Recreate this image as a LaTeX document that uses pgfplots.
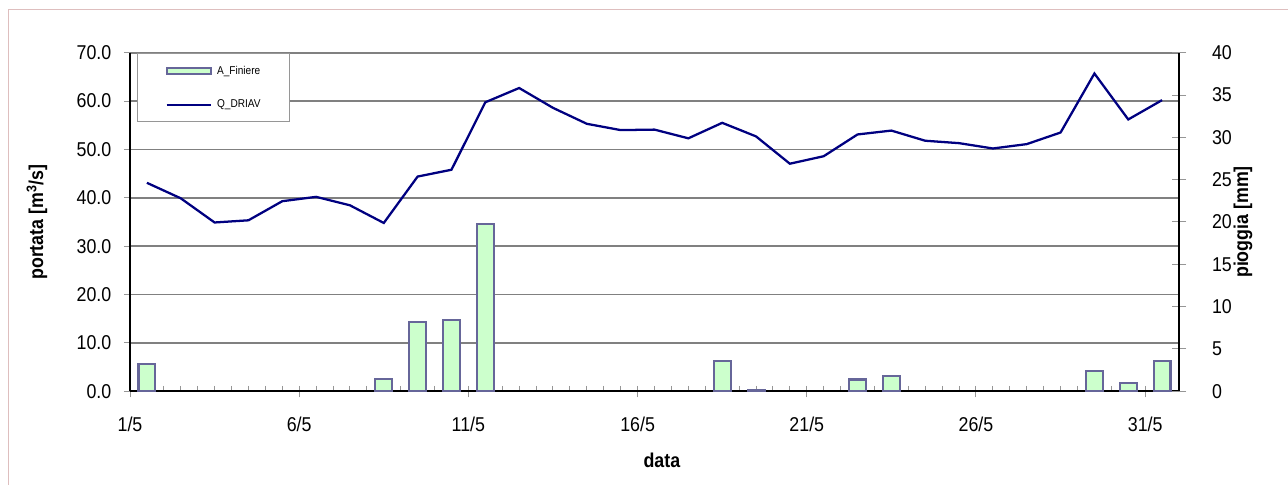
\documentclass[border=0pt]{standalone}
\usepackage{pgfplots}
\pgfplotsset{compat=1.18}
\usepackage{fontspec}
\setmainfont[FakeStretch=0.89]{Liberation Sans}

\definecolor{navyline}{RGB}{0,0,128}
\definecolor{barfill}{RGB}{204,255,204}
\definecolor{baredge}{RGB}{102,102,153}
\definecolor{gridgray}{RGB}{128,128,128}
\definecolor{tickgray}{RGB}{150,150,150}
\definecolor{framepink}{RGB}{222,190,190}

% portata Q_DRIAV [m3/s], day + 0.5
\pgfplotstableread{
x    q
1.5  43.1
2.5  39.9
3.5  34.9
4.5  35.35
5.5  39.3
6.5  40.2
7.5  38.45
8.5  34.8
9.5  44.4
10.5 45.8
11.5 59.75
12.5 62.7
13.5 58.6
14.5 55.3
15.5 54.0
16.5 54.1
17.5 52.3
18.5 55.5
19.5 52.7
20.5 47.05
21.5 48.6
22.5 53.1
23.5 53.9
24.5 51.8
25.5 51.3
26.5 50.2
27.5 51.1
28.5 53.5
29.5 65.7
30.5 56.2
31.5 60.2
}\portata

% pioggia A_Finiere [mm]
\pgfplotstableread{
x    p
1.5  3.2
8.5  1.45
9.5  8.2
10.5 8.4
11.5 19.8
18.5 3.6
19.5 0.2
22.5 1.4
23.5 1.8
29.5 2.4
30.5 1.0
31.5 3.6
}\pioggia

\pgfplotsset{
  common/.style={
    at={(97.5pt,70.275pt)}, anchor=south west,
    scale only axis, width=786.75pt, height=253.95pt,
    xmin=1, xmax=32,
    tick label style={font=\fontsize{15}{18}\selectfont},
    label style={font=\bfseries\fontsize{15}{18}\selectfont},
    /pgf/number format/assume math mode=true,
    axis line style={black, line width=1.2pt},
    tick style={tickgray, line width=0.75pt},
  }
}

\begin{document}
\begin{tikzpicture}[x=0.75pt,y=0.75pt]
\useasboundingbox (0,0) rectangle (1288,485);
\draw[framepink, line width=0.75pt] (8,0) -- (8,475.7) -- (1288,475.7);

\begin{axis}[
  common,
  ymin=0, ymax=70,
  axis x line*=bottom, axis y line*=left,
  ytick={0,10,...,70},
  yticklabel style={/pgf/number format/fixed, /pgf/number format/fixed zerofill,
    /pgf/number format/precision=1, xshift=-6pt},
  ymajorgrids, grid style={gridgray, line width=1.4pt},
  xtick={1,6,...,31},
  xticklabels={1/5,6/5,11/5,16/5,21/5,26/5,31/5},
  minor xtick={1,1.5,...,32},
  tick align=outside,
  major tick length=4.5pt, minor tick length=-4pt,
  xticklabel style={yshift=-11pt},
  ylabel={portata [m\textsuperscript{3}/s]},
  ylabel style={at={(axis description cs:-0.0887,0.5)}, anchor=center},
  xlabel={data},
  xlabel style={at={(axis description cs:0.507,-0.203)}, anchor=center},
]
\addplot[navyline, line width=1.7pt, mark=none] table[x=x, y=q] {\portata};
\end{axis}

\begin{axis}[
  common,
  ymin=0, ymax=40,
  axis x line=none, axis y line*=right,
  ytick={0,5,...,40},
  tick align=center, major tick length=10.5pt,
  yticklabel style={xshift=16pt},
  ylabel={pioggia [mm]},
  ylabel style={at={(axis description cs:1.061,0.5)}, anchor=center, rotate=0},
  legend style={at={(0.0067,0.998)}, anchor=north west,
    draw=tickgray, line width=0.75pt, fill=white,
    font=\fontsize{8.5}{10}\selectfont,
    inner xsep=21pt, inner ysep=8pt, row sep=16pt, column sep=3pt,
    nodes={inner sep=1pt}},
  legend cell align=left,
]
\addplot[ybar, bar width=0.5, fill=barfill, draw=baredge, line width=1.6pt,
  legend image code/.code={\draw[fill=barfill, draw=baredge, line width=1.5pt] (0pt,-2.25pt) rectangle (33pt,2.25pt);}]
  table[x=x, y=p] {\pioggia};
\addlegendentry{A\_Finiere}
\addlegendimage{legend image code/.code={\draw[navyline, line width=1.7pt] (0pt,0pt) -- (33pt,0pt);}}
\addlegendentry{Q\_DRIAV}
\end{axis}
\end{tikzpicture}
\end{document}
